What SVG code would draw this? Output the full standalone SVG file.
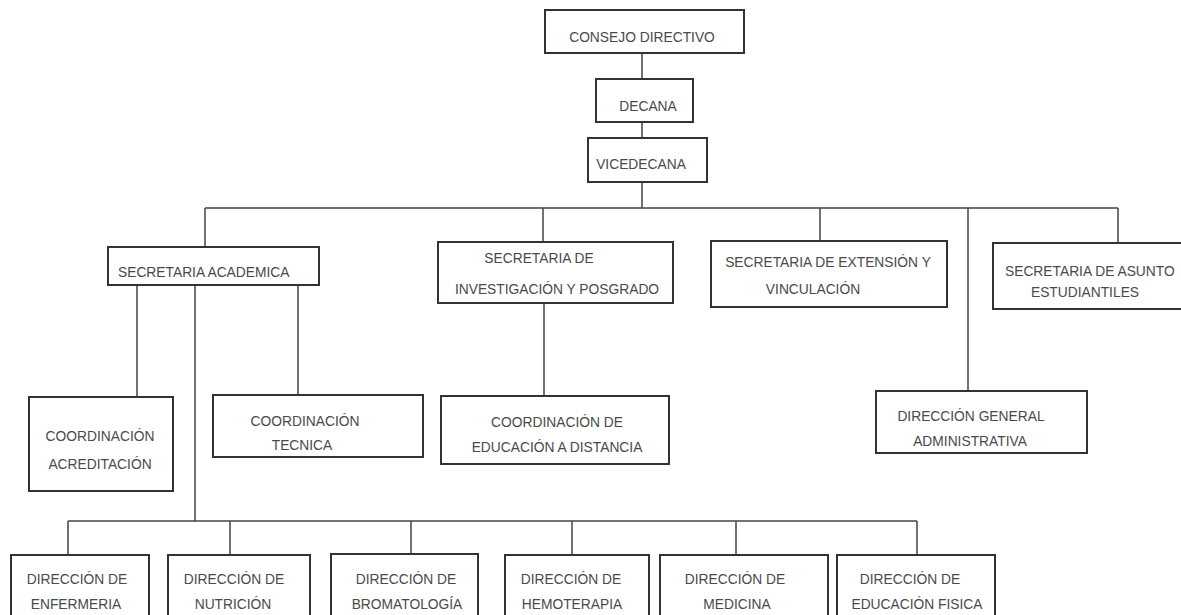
<svg xmlns="http://www.w3.org/2000/svg" width="1181" height="615" viewBox="0 0 1181 615">
<style>
.box{fill:#fff;stroke:#333;stroke-width:2}
.ln{fill:none;stroke:#444;stroke-width:1.5}
text{font-family:"Liberation Sans",Arial,sans-serif;font-size:13.8px;fill:#4a4a4a}
.c{text-anchor:middle}
</style>
<rect width="1181" height="615" fill="#fff"/>
<g id="connectors">
<path class="ln" d="M642 53V79M642 122V138M642 182V208M205 208H1118M205 208V247M543 208V242M820 208V241M968 208V391M1118 208V243"/>
<path class="ln" d="M137 285V397M298 285V395M195 285V521M544 303V396"/>
<path class="ln" d="M68 521H917M68 521V555M230 521V555M411 521V555M572 521V555M736 521V555M917 521V555"/>
</g>
<g id="consejo"><rect class="box" x="545" y="10" width="199" height="43"/><text class="c" x="642" y="42">CONSEJO DIRECTIVO</text></g>
<g id="decana"><rect class="box" x="596" y="79" width="97" height="43"/><text class="c" x="648" y="111">DECANA</text></g>
<g id="vicedecana"><rect class="box" x="588" y="138" width="119" height="44"/><text class="c" x="641" y="169">VICEDECANA</text></g>
<g id="sec-academica"><rect class="box" x="108" y="247" width="211" height="38"/><text x="118" y="277">SECRETARIA ACADEMICA</text></g>
<g id="sec-investigacion"><rect class="box" x="438" y="242" width="235" height="61"/><text class="c" x="539" y="263">SECRETARIA DE</text><text class="c" x="557" y="294">INVESTIGACIÓN Y POSGRADO</text></g>
<g id="sec-extension"><rect class="box" x="711" y="241" width="236" height="66"/><text class="c" x="828" y="267">SECRETARIA DE EXTENSIÓN Y</text><text class="c" x="813" y="294">VINCULACIÓN</text></g>
<g id="sec-asuntos"><rect class="box" x="993" y="243" width="200" height="66"/><text x="1005" y="276">SECRETARIA DE ASUNTO</text><text class="c" x="1085" y="297">ESTUDIANTILES</text></g>
<g id="coord-acreditacion"><rect class="box" x="29" y="397" width="144" height="94"/><text class="c" x="100" y="441">COORDINACIÓN</text><text class="c" x="100" y="469">ACREDITACIÓN</text></g>
<g id="coord-tecnica"><rect class="box" x="213" y="395" width="210" height="62"/><text class="c" x="305" y="426">COORDINACIÓN</text><text class="c" x="302" y="450">TECNICA</text></g>
<g id="coord-distancia"><rect class="box" x="441" y="396" width="228" height="68"/><text class="c" x="557" y="427">COORDINACIÓN DE</text><text class="c" x="557" y="452">EDUCACIÓN A DISTANCIA</text></g>
<g id="dir-general"><rect class="box" x="876" y="391" width="211" height="62"/><text class="c" x="971" y="421">DIRECCIÓN GENERAL</text><text class="c" x="970" y="446">ADMINISTRATIVA</text></g>
<g id="dir-enfermeria"><rect class="box" x="11" y="555" width="138" height="70"/><text class="c" x="77" y="584">DIRECCIÓN DE</text><text class="c" x="76" y="609">ENFERMERIA</text></g>
<g id="dir-nutricion"><rect class="box" x="168" y="555" width="142" height="70"/><text class="c" x="234" y="584">DIRECCIÓN DE</text><text class="c" x="233" y="609">NUTRICIÓN</text></g>
<g id="dir-bromatologia"><rect class="box" x="331" y="554" width="147" height="71"/><text class="c" x="406" y="584">DIRECCIÓN DE</text><text class="c" x="407" y="609">BROMATOLOGÍA</text></g>
<g id="dir-hemoterapia"><rect class="box" x="505" y="555" width="144" height="70"/><text class="c" x="571" y="584">DIRECCIÓN DE</text><text class="c" x="572" y="609">HEMOTERAPIA</text></g>
<g id="dir-medicina"><rect class="box" x="660" y="555" width="168" height="70"/><text class="c" x="735" y="584">DIRECCIÓN DE</text><text class="c" x="737" y="609">MEDICINA</text></g>
<g id="dir-educacion-fisica"><rect class="box" x="837" y="555" width="158" height="70"/><text class="c" x="910" y="584">DIRECCIÓN DE</text><text class="c" x="917" y="609">EDUCACIÓN FISICA</text></g>
</svg>
